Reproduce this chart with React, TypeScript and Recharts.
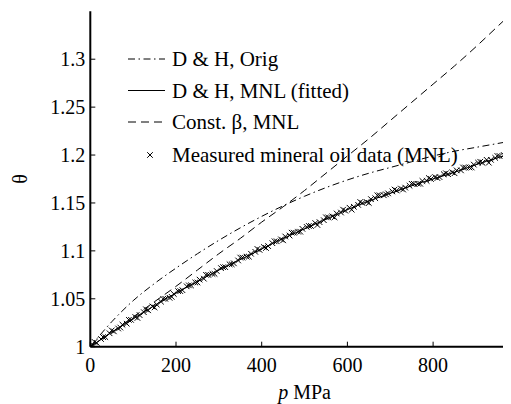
import React from 'react';
import { ComposedChart, Line, Scatter, XAxis, YAxis, Legend } from 'recharts';

// Curve abscissae (MPa)
const curveP = [0, 50, 100, 150, 200, 250, 300, 350, 400, 450, 500, 550, 600, 650, 700, 750, 800, 850, 900, 950, 1000];
// D & H, Orig (dash-dot)
const origTheta = [1.0, 1.026, 1.048, 1.066, 1.082, 1.097, 1.111, 1.124, 1.136, 1.147, 1.157, 1.166, 1.174, 1.181, 1.187, 1.193, 1.199, 1.204, 1.208, 1.212, 1.216];
// D & H, MNL (fitted) (solid)
const fittedTheta = [1.0, 1.015, 1.029, 1.043, 1.056, 1.068, 1.08, 1.091, 1.102, 1.113, 1.123, 1.133, 1.143, 1.152, 1.16, 1.168, 1.175, 1.182, 1.19, 1.197, 1.205];
// Const. beta, MNL (dashed)
const constBetaTheta = [1.0, 1.015, 1.031, 1.047, 1.063, 1.08, 1.097, 1.113, 1.13, 1.146, 1.163, 1.181, 1.199, 1.217, 1.236, 1.255, 1.274, 1.293, 1.313, 1.334, 1.355];

// Measured mineral oil data (MNL)
const measuredP = [5, 15, 25, 35, 45, 55, 65, 75, 85, 95, 105, 115, 125, 135, 145, 155, 165, 175, 185, 195, 205, 215, 225, 235, 245, 255, 265, 275, 285, 295, 305, 315, 325, 335, 345, 355, 365, 375, 385, 395, 405, 415, 425, 435, 445, 455, 465, 475, 485, 495, 505, 515, 525, 535, 545, 555, 565, 575, 585, 595, 605, 615, 625, 635, 645, 655, 665, 675, 685, 695, 705, 715, 725, 735, 745, 755, 765, 775, 785, 795, 805, 815, 825, 835, 845, 855, 865, 875, 885, 895, 905, 915, 925, 935, 945, 955, 965, 975];
const measuredTheta = [1.002, 1.004, 1.008, 1.01, 1.014, 1.016, 1.019, 1.023, 1.024, 1.028, 1.031, 1.033, 1.036, 1.038, 1.042, 1.044, 1.047, 1.05, 1.051, 1.055, 1.058, 1.059, 1.063, 1.064, 1.067, 1.07, 1.071, 1.075, 1.076, 1.079, 1.082, 1.083, 1.086, 1.087, 1.09, 1.093, 1.094, 1.097, 1.099, 1.101, 1.104, 1.105, 1.108, 1.11, 1.112, 1.115, 1.116, 1.119, 1.12, 1.123, 1.125, 1.126, 1.129, 1.13, 1.132, 1.135, 1.136, 1.139, 1.14, 1.142, 1.145, 1.146, 1.148, 1.15, 1.151, 1.154, 1.155, 1.158, 1.158, 1.16, 1.162, 1.163, 1.165, 1.166, 1.168, 1.17, 1.17, 1.173, 1.173, 1.175, 1.177, 1.177, 1.18, 1.18, 1.182, 1.184, 1.184, 1.187, 1.187, 1.19, 1.192, 1.192, 1.195, 1.195, 1.197, 1.199, 1.2, 1.202];
// second measurement pass (interleaved pressures)
const measuredP2 = [10, 30, 50, 70, 90, 110, 130, 150, 170, 190, 210, 230, 250, 270, 290, 310, 330, 350, 370, 390, 410, 430, 450, 470, 490, 510, 530, 550, 570, 590, 610, 630, 650, 670, 690, 710, 730, 750, 770, 790, 810, 830, 850, 870, 890, 910, 930, 950, 970];
const measuredTheta2 = [1.005, 1.01, 1.017, 1.02, 1.028, 1.03, 1.039, 1.041, 1.050, 1.052, 1.058, 1.064, 1.067, 1.075, 1.076, 1.083, 1.086, 1.093, 1.094, 1.102, 1.103, 1.11, 1.111, 1.119, 1.12, 1.126, 1.127, 1.135, 1.135, 1.143, 1.143, 1.151, 1.15, 1.158, 1.159, 1.164, 1.164, 1.17, 1.17, 1.176, 1.176, 1.181, 1.181, 1.187, 1.187, 1.193, 1.192, 1.199, 1.199];

const xTicks = [0, 200, 400, 600, 800];
const yTicks = [1, 1.05, 1.1, 1.15, 1.2, 1.25, 1.3];
const legendLabels = ['D & H, Orig', 'D & H, MNL (fitted)', 'Const. \u03B2, MNL', 'Measured mineral oil data (MN\u0141)'];

const origData = curveP.map((p, i) => ({ p, theta: origTheta[i] }));
const fittedData = curveP.map((p, i) => ({ p, theta: fittedTheta[i] }));
const constData = curveP.map((p, i) => ({ p, theta: constBetaTheta[i] }));
const measuredData = measuredP.map((p, i) => ({ p, theta: measuredTheta[i] }))
  .concat(measuredP2.map((p, i) => ({ p, theta: measuredTheta2[i] })));

const FONT = '"Liberation Serif"';
const FS = 20;
const LEGEND_FS = 21;
const DASHDOT = '7 3.5 1.5 3.5';
const DASHED = '8 5';
const CSS = '.chartbox, .chartbox *, .chartbox svg text, .chartbox svg tspan { font-family: "Liberation Serif" !important; }';

const Cross = (props: any) => {
  const { cx, cy } = props;
  if (cx == null || cy == null) return null;
  const s = 2.8;
  return (
    <path
      d={`M${cx - s},${cy - s}L${cx + s},${cy + s}M${cx - s},${cy + s}L${cx + s},${cy - s}`}
      stroke="#000"
      strokeWidth={1}
      fill="none"
    />
  );
};

const renderLegend = () => {
  const rowsY = [21, 52.5, 84, 117];
  const styles = [DASHDOT, undefined, DASHED, null];
  return (
    <svg width={420} height={140}>
      {legendLabels.map((lab, i) => (
        <g key={lab}>
          {styles[i] !== null ? (
            <line x1={20} x2={57} y1={rowsY[i]} y2={rowsY[i]} stroke="#000" strokeWidth={1} strokeDasharray={styles[i] as any} />
          ) : (
            <Cross cx={42} cy={rowsY[i]} />
          )}
          <text x={64} y={rowsY[i] + 7} fontSize={LEGEND_FS} fill="#000" style={{ fontFamily: FONT }}>{lab}</text>
        </g>
      ))}
    </svg>
  );
};

export default function App() {
  return (
    <div className="chartbox" style={{ width: 503, height: 396, overflow: 'hidden', fontFamily: FONT, position: 'relative' }}>
      <style>{CSS}</style>
      <ComposedChart width={520} height={396} margin={{ top: 3.3, right: 9.2, bottom: 0, left: 0 }}>
        <XAxis
          dataKey="p"
          type="number"
          domain={[0, 1000]}
          ticks={xTicks}
          allowDataOverflow
          height={57.3}
          tickSize={-5}
          tickMargin={16}
          axisLine={{ stroke: '#000', strokeWidth: 2 }}
          tickLine={{ stroke: '#000', strokeWidth: 1 }}
          tick={{ fontSize: FS, fill: '#000' }}
          label={{
            content: (props: any) => {
              const vb = props.viewBox;
              return (
                <text x={vb.x + vb.width / 2} y={vb.y + 52} textAnchor="middle" fontSize={FS} fill="#000">
                  <tspan fontStyle="italic">p</tspan> MPa
                </text>
              );
            },
          }}
        />
        <XAxis
          xAxisId="top"
          orientation="top"
          dataKey="p"
          type="number"
          domain={[0, 1000]}
          ticks={xTicks}
          height={0}
          tickSize={-5}
          tickFormatter={() => ''}
          axisLine={{ stroke: '#000', strokeWidth: 2 }}
          tickLine={{ stroke: '#000', strokeWidth: 1 }}
        />
        <YAxis
          type="number"
          domain={[1, 1.35]}
          ticks={yTicks}
          allowDataOverflow
          width={82.3}
          tickSize={-5}
          tickMargin={10}
          axisLine={{ stroke: '#000', strokeWidth: 2 }}
          tickLine={{ stroke: '#000', strokeWidth: 1 }}
          tick={{ fontSize: FS, fill: '#000' }}
          label={{
            content: (props: any) => {
              const vb = props.viewBox;
              const x = vb.x + 12;
              const y = vb.y + vb.height / 2;
              return (
                <text x={x} y={y} textAnchor="middle" dominantBaseline="central" fontSize={FS} fill="#000" transform={`rotate(-90 ${x} ${y})`}>
                  {'\u03B8'}
                </text>
              );
            },
          }}
        />
        <Line data={origData} dataKey="theta" type="monotone" stroke="#000" strokeWidth={1} strokeDasharray={DASHDOT} dot={false} isAnimationActive={false} />
        <Line data={constData} dataKey="theta" type="monotone" stroke="#000" strokeWidth={1} strokeDasharray={DASHED} dot={false} isAnimationActive={false} />
        <Scatter data={measuredData} dataKey="theta" shape={Cross} isAnimationActive={false} />
        <Line data={fittedData} dataKey="theta" type="monotone" stroke="#000" strokeWidth={1} dot={false} isAnimationActive={false} />
        <Legend
          layout="vertical"
          verticalAlign="middle"
          align="center"
          content={renderLegend}
          wrapperStyle={{ left: 100, top: 30, width: 420, height: 140 }}
        />
      </ComposedChart>
    </div>
  );
}
